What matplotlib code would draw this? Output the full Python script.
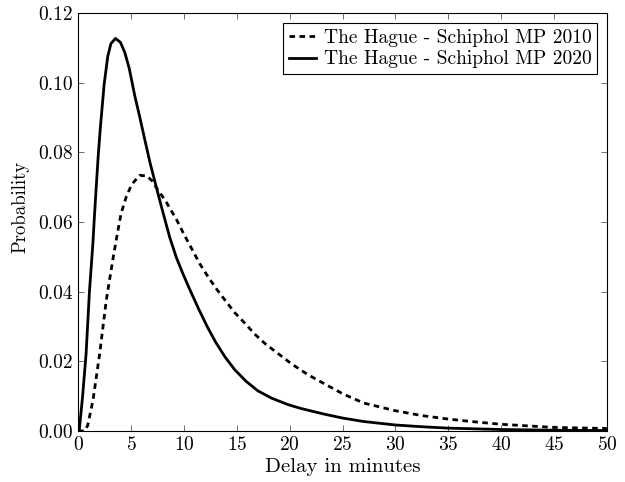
import matplotlib
matplotlib.use("Agg")
import matplotlib.pyplot as plt
from matplotlib.ticker import FormatStrFormatter

plt.rcParams['font.family'] = 'serif'
plt.rcParams['font.serif'] = ['cmr10']
plt.rcParams['mathtext.fontset'] = 'cm'
plt.rcParams['axes.formatter.use_mathtext'] = True

# delay distribution
x_2010 = [0, 0.6, 0.9, 1.4, 2.03, 2.66, 3.31, 3.7, 4.06, 4.57, 5.0, 5.3, 5.83, 6.5, 7.0, 7.41,
          8.3, 9.3, 10.0, 10.8, 11.5, 12.3, 13.1, 13.9, 14.8, 15.8, 16.7, 17.7, 19.0, 20.2,
          21.7, 23.3, 25, 27, 30, 32.5, 35, 37.5, 40, 45, 50]
p_2010 = [0, 0, 0.0015, 0.0087, 0.022, 0.0375, 0.0497, 0.0565, 0.0624, 0.0674, 0.0703, 0.0716,
          0.0734, 0.0732, 0.0718, 0.0698, 0.0659, 0.0607, 0.0565, 0.0520, 0.0480, 0.0442,
          0.0407, 0.0375, 0.0340, 0.0308, 0.0278, 0.0250, 0.0220, 0.0192, 0.0162, 0.0135,
          0.0107, 0.0080, 0.0058, 0.0044, 0.0034, 0.0026, 0.0019, 0.0010, 0.0007]

x_2020 = [0, 0.1, 0.41, 0.75, 1.07, 1.4, 1.51, 1.67, 1.9, 2.1, 2.46, 2.8, 3.1, 3.53, 4.0, 4.41,
          4.84, 5.36, 5.8, 6.3, 6.8, 7.41, 8.0, 8.67, 9.3, 9.9, 10.5, 11.4, 12.2, 13, 13.9,
          14.8, 15.9, 17, 18.3, 19.8, 21, 22.2, 23.3, 25, 27, 30, 32.5, 35, 40, 45, 50]
p_2020 = [0, 0, 0.0095, 0.022, 0.040, 0.054, 0.060, 0.068, 0.079, 0.087, 0.0995, 0.1075,
          0.1112, 0.1127, 0.1116, 0.1087, 0.1040, 0.0962, 0.0905, 0.0837, 0.0770, 0.0698,
          0.0630, 0.0555, 0.0497, 0.0452, 0.0410, 0.0350, 0.0300, 0.0255, 0.0212, 0.0176,
          0.0142, 0.0115, 0.0094, 0.0076, 0.0065, 0.0056, 0.0048, 0.0037, 0.0027, 0.0017,
          0.0012, 0.0008, 0.0004, 0.0002, 0.0001]

labels = ['The Hague - Schiphol MP 2010', 'The Hague - Schiphol MP 2020']

fig = plt.figure(figsize=(6.25, 4.82), dpi=100)
ax = fig.add_axes([0.125, 0.106, 0.846, 0.867])

ax.plot(x_2010, p_2010, color='black', lw=2.0, ls=(0, (2, 1.6)), label=labels[0])
ax.plot(x_2020, p_2020, color='black', lw=2.0, label=labels[1])

ax.set_xlim(0, 50)
ax.set_ylim(0, 0.12)
ax.set_xticks(range(0, 51, 5))
ax.set_yticks([0, 0.02, 0.04, 0.06, 0.08, 0.10, 0.12])
ax.yaxis.set_major_formatter(FormatStrFormatter('%.2f'))
ax.tick_params(direction='in', top=True, right=True, length=4, width=0.6,
               labelsize=14, color='#555555')
for s in ax.spines.values():
    s.set_linewidth(0.8)

ax.set_xlabel('Delay in minutes', fontsize=15, labelpad=3)
ax.set_ylabel('Probability', fontsize=13.5)
ax.yaxis.set_label_coords(-0.092, 0.535)

leg = ax.legend(loc='upper right', fontsize=14, fancybox=False, framealpha=1,
                edgecolor='black', handlelength=1.4, borderpad=0.3,
                labelspacing=0.2, handletextpad=0.4, borderaxespad=0.5)
leg.get_frame().set_linewidth(0.8)

fig.savefig('out.png', dpi=100)
